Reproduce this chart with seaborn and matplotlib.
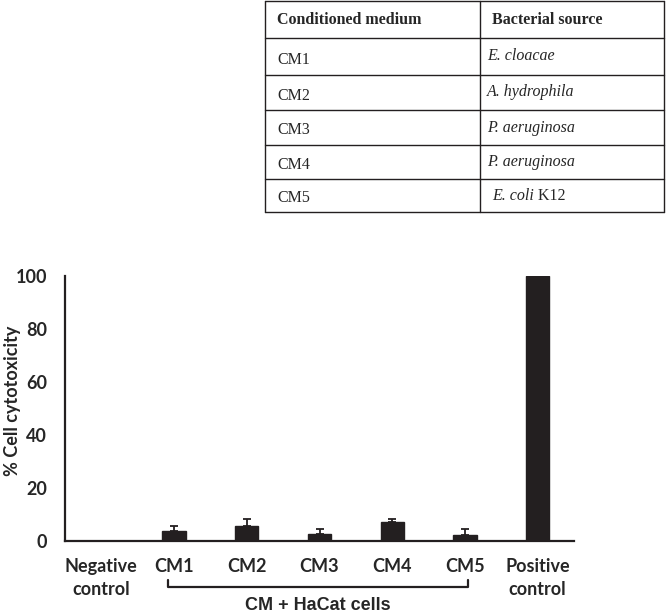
import matplotlib
matplotlib.use("Agg")
import matplotlib.pyplot as plt
import seaborn as sns
import pandas as pd
import numpy as np

categories = ["Negative\ncontrol", "CM1", "CM2", "CM3", "CM4", "CM5", "Positive\ncontrol"]
values = [0.0, 3.9, 5.5, 2.5, 7.0, 2.4, 100.0]
errors = [0.0, 1.6, 2.9, 2.1, 1.2, 2.0, 0.0]
y_ticks = [0, 20, 40, 60, 80, 100]
y_label = "% Cell cytotoxicity"
group_label = "CM + HaCat cells"

table_header = ["Conditioned medium", "Bacterial source"]
table_media = ["CM1", "CM2", "CM3", "CM4", "CM5"]
table_sources_italic = ["E. cloacae", "A. hydrophila", "P. aeruginosa", "P. aeruginosa", "E. coli"]
table_sources_plain = ["", "", "", "", " K12"]

sns.set_style("white")
plt.rcParams["font.family"] = ["Lato", "DejaVu Sans"]

dark = "#231f20"
fig = plt.figure(figsize=(6.66, 6.14), dpi=100)
ax = fig.add_axes([65/666, 1-541/614, (574-65)/666, (541-276)/614])

df = pd.DataFrame({"cat": categories, "val": values})
sns.barplot(data=df, x="cat", y="val", color=dark, width=0.32, ax=ax,
            saturation=1, errorbar=None)
for p in ax.patches:
    p.set_edgecolor(dark)
xs = np.arange(len(categories))
mask = np.array(errors) > 0
ax.errorbar(xs[mask], np.array(values)[mask],
            yerr=[np.zeros(mask.sum()), np.array(errors)[mask]],
            fmt="none", ecolor=dark, elinewidth=1.3, capsize=2.6, capthick=1.3)

ax.set_xlim(-0.5, 6.5)
ax.set_ylim(0, 100)
ax.set_yticks(y_ticks)
ax.set_xlabel("")
ax.set_ylabel(y_label, fontsize=13, fontweight="bold")
ax.yaxis.set_label_coords((21 - 65) / 509, 0.53)
ax.tick_params(axis="both", length=0, labelsize=13)
ax.tick_params(axis="y", pad=13)
ax.tick_params(axis="x", pad=12)
for lbl in ax.get_xticklabels() + ax.get_yticklabels():
    lbl.set_fontweight("bold")
for lbl in ax.get_xticklabels():
    lbl.set_linespacing(1.45)
sns.despine(ax=ax)
for s in ["left", "bottom"]:
    ax.spines[s].set_color(dark)
    ax.spines[s].set_linewidth(1.6)

# bracket under CM1..CM5
trans = matplotlib.transforms.blended_transform_factory(ax.transData, fig.transFigure)
yb = 1 - 587/614
ytop = 1 - 580/614
ax.plot([1 - 0.09, 1 - 0.09, 5 + 0.04, 5 + 0.04], [ytop, yb, yb, ytop],
        transform=trans, color=dark, lw=1.6, clip_on=False)
fig.text(318 / 666, 1 - 606/614, group_label,
         ha="center", va="center", fontsize=13, fontweight="bold",
         family=["Liberation Sans", "DejaVu Sans"])

# table
tax = fig.add_axes([0, 0, 1, 1])
tax.set_xlim(0, 666)
tax.set_ylim(614, 0)
tax.axis("off")
x0, xm, x1 = 265, 480, 664
rows_y = [1, 38, 75, 110, 145, 179, 212]
lw = 1.0
for y in rows_y:
    tax.plot([x0, x1], [y, y], color=dark, lw=lw)
for x in [x0, xm, x1]:
    tax.plot([x, x], [rows_y[0], rows_y[-1]], color=dark, lw=lw)
serif = ["Liberation Serif", "DejaVu Serif"]
fs = 11.5
tax.text(x0 + 12, (rows_y[0] + rows_y[1]) / 2, table_header[0], fontsize=fs,
         fontweight="bold", family=serif, va="center")
tax.text(xm + 12, (rows_y[0] + rows_y[1]) / 2, table_header[1], fontsize=fs,
         fontweight="bold", family=serif, va="center")
for i, m in enumerate(table_media):
    yc = (rows_y[i + 1] + rows_y[i + 2]) / 2
    tax.text(x0 + 12, yc + 3, m, fontsize=fs, family=serif, va="center")
    t = tax.text(xm + 7 + (5 if i == 4 else 0), yc, table_sources_italic[i],
                 fontsize=fs, family=serif, style="italic", va="center")
    if table_sources_plain[i]:
        tax.annotate(table_sources_plain[i], xy=(1, 0.5), xycoords=t,
                     fontsize=fs, family=serif, va="center", ha="left")

fig.savefig("out.png", dpi=100)
